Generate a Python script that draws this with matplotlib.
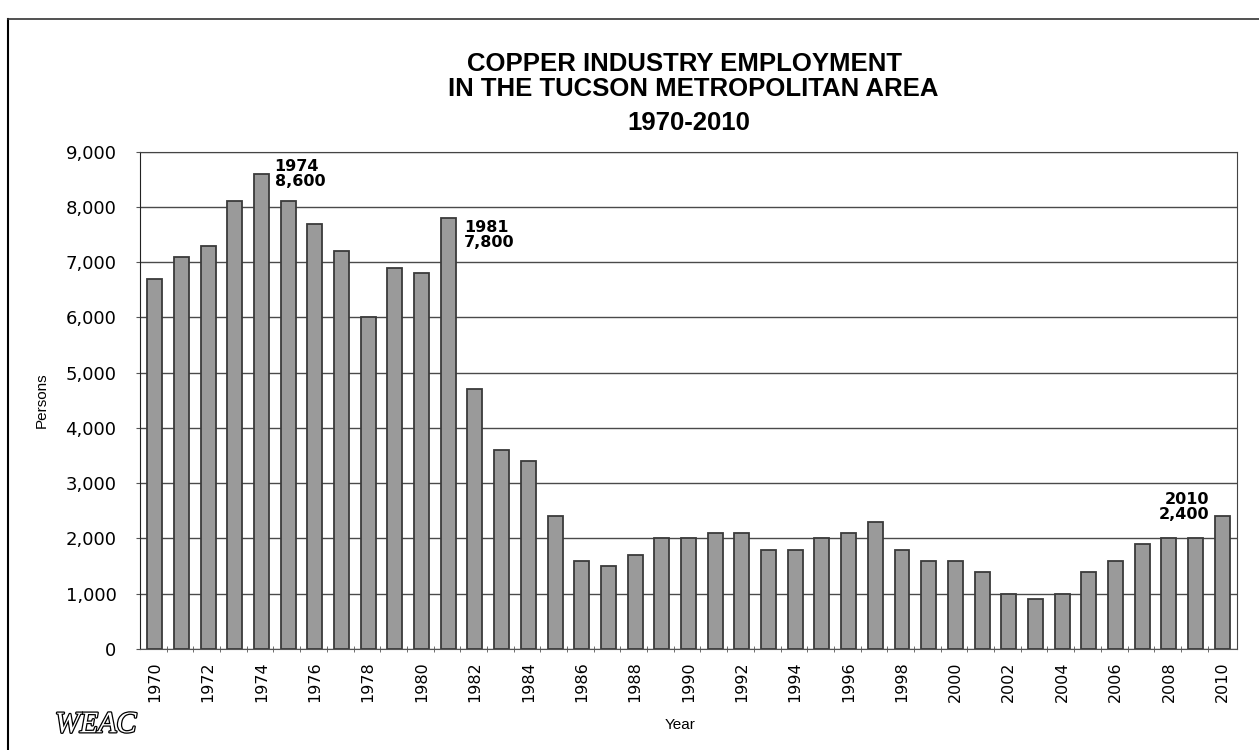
import numpy as np
import matplotlib.pyplot as plt
import matplotlib.patheffects as pe
from matplotlib.lines import Line2D

plt.rcParams['font.family'] = ['DejaVu Sans']

years = list(range(1970, 2011))
persons = [6700, 7100, 7300, 8100, 8600, 8100, 7700, 7200, 6000, 6900,
           6800, 7800, 4700, 3600, 3400, 2400, 1600, 1500, 1700, 2000,
           2000, 2100, 2100, 1800, 1800, 2000, 2100, 2300, 1800, 1600,
           1600, 1400, 1000, 900, 1000, 1400, 1600, 1900, 2000, 2000,
           2400]
yticks = list(range(0, 9001, 1000))
callouts = [(1974, "1974\n8,600"), (1981, "1981\n7,800"), (2010, "2010\n2,400")]

fig = plt.figure(figsize=(12.59, 7.5), dpi=100)
ax = fig.add_axes([0.1112, 0.1347, 0.8713, 0.663])

x = np.arange(len(years))
ax.bar(x, persons, width=0.56, color='#9a9a9a', edgecolor='#3a3a3a', linewidth=1.3, zorder=3)

ax.set_xlim(-0.55, len(years) - 0.45)
ax.set_ylim(0, 9000)
ax.set_yticks(yticks)
ax.set_yticklabels([f"{v:,}" for v in yticks], fontsize=13)
ax.yaxis.grid(True, color='#4a4a4a', linewidth=1.0, zorder=0)

# year labels every other bar, small ticks between bars
ax.set_xticks(x[::2])
ax.set_xticklabels([str(y) for y in years[::2]], rotation=90, fontsize=11.5)
ax.set_xticks(x[:-1] + 0.45, minor=True)
ax.tick_params(axis='x', which='major', length=0, pad=9)
ax.tick_params(axis='x', which='minor', length=5, direction='inout', color='#555555')
ax.tick_params(axis='y', length=3, color='#555555', pad=14)

for side in ['top', 'right']:
    ax.spines[side].set_color('#444444')
ax.spines['left'].set_color('#222222')
ax.spines['bottom'].set_color('#555555')

ax.set_ylabel("Persons", fontsize=11, fontfamily='Liberation Sans')
ax.yaxis.set_label_coords(-0.083, 0.5)
ax.set_xlabel("Year", fontsize=11, fontfamily='Liberation Sans')
ax.xaxis.set_label_coords(0.492, -0.139)

# value callouts
yr0 = years[0]
ax.text(callouts[0][0] - yr0 + 0.49, persons[4], callouts[0][1], ha='left', va='center',
        fontsize=11.5, fontweight='bold', linespacing=1.0)
ax.text(callouts[1][0] - yr0 + 0.6, 7500, callouts[1][1], ha='left', va='center',
        fontsize=11.5, fontweight='bold', linespacing=1.0)
ax.text(callouts[2][0] - yr0 - 0.5, 2300, callouts[2][1], ha='right', va='bottom',
        fontsize=11.5, fontweight='bold', linespacing=1.0)

title_kw = dict(ha='center', va='center', fontsize=18.5, fontweight='bold', fontfamily='Liberation Sans')
fig.text(0.544, 0.915, "COPPER INDUSTRY EMPLOYMENT", **title_kw)
fig.text(0.551, 0.882, "IN THE TUCSON METROPOLITAN AREA", **title_kw)
fig.text(0.547, 0.836, "1970-2010", **title_kw)

fig.text(0.0437, 0.033, "WEAC", ha='left', va='center', fontsize=21.5, style='italic',
         color='white', fontfamily='Liberation Serif',
         path_effects=[pe.Stroke(linewidth=1.8, foreground='black'), pe.Normal()])

# page border
fig.add_artist(Line2D([0.0065, 0.0065], [0.0, 0.975], transform=fig.transFigure, color='black', linewidth=1.5))
fig.add_artist(Line2D([0.0065, 1.0], [0.975, 0.975], transform=fig.transFigure, color='#333333', linewidth=1.2))

fig.savefig("out.png", dpi=100)
